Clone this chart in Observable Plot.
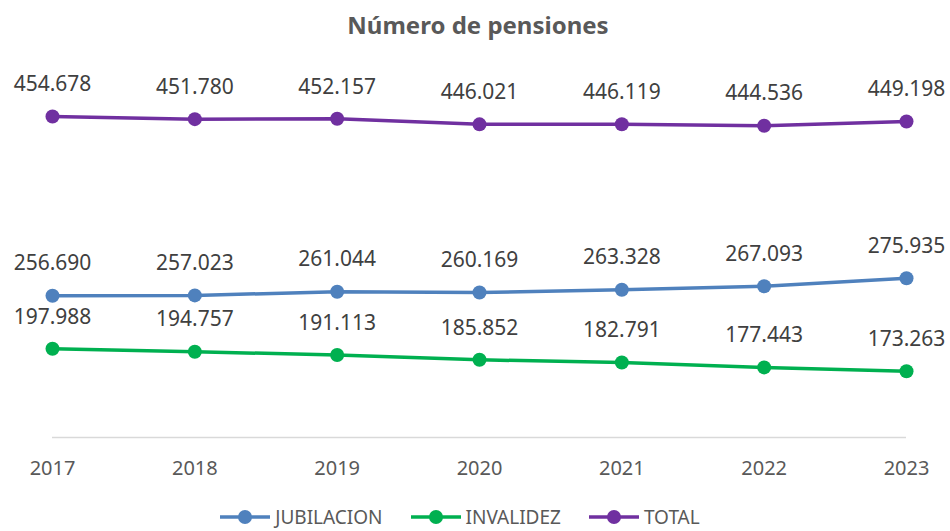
<!DOCTYPE html>
<html>
<head>
<meta charset="utf-8">
<script src="https://cdn.jsdelivr.net/npm/d3@7"></script>
<script src="https://cdn.jsdelivr.net/npm/@observablehq/plot@0.6"></script>
<style>
  body { margin: 0; background: #fff; font-family: "Noto Sans", sans-serif; }
  #wrap { width: 950px; height: 531px; overflow: hidden; position: relative; }
  #title { height: 50px; line-height: 50px; text-align: center; font-weight: bold; font-size: 24px; color: #595959; padding-left: 6px; }
  #legend { position: absolute; left: 0; right: 0; top: 504px; height: 26px; display: flex; justify-content: center; align-items: center; gap: 28px; font-size: 19px; line-height: 26px; color: #595959; padding-right: 30px; }
  .item { display: flex; align-items: center; gap: 5px; }
</style>
</head>
<body>
<div id="wrap">
  <div id="title">Número de pensiones</div>
  <div id="chart"></div>
  <div id="legend"></div>
</div>
<script>
const years = [2017, 2018, 2019, 2020, 2021, 2022, 2023];
const jubilacion = [256690, 257023, 261044, 260169, 263328, 267093, 275935];
const invalidez = [197988, 194757, 191113, 185852, 182791, 177443, 173263];
const total = [454678, 451780, 452157, 446021, 446119, 444536, 449198];
const seriesNames = ["JUBILACION", "INVALIDEZ", "TOTAL"];
const seriesColors = ["#4f81bd", "#00b050", "#7030a0"];

const seriesValues = [jubilacion, invalidez, total];
const data = [];
seriesNames.forEach((name, i) => {
  years.forEach((y, j) => data.push({ serie: name, year: y, value: seriesValues[i][j] }));
});

const fmt = d3.formatLocale({ decimal: ",", thousands: ".", grouping: [3], currency: ["", ""] }).format(",");

const plot = Plot.plot({
  width: 950,
  height: 450,
  marginTop: 25,
  marginBottom: 63,
  marginLeft: 52,
  marginRight: 44,
  style: { fontFamily: "Noto Sans, sans-serif", color: "#595959", background: "#fff" },
  x: { domain: [2017, 2023], axis: null },
  y: { domain: [100000, 500000], axis: null },
  color: { domain: seriesNames, range: seriesColors },
  marks: [
    Plot.ruleY([100000], { stroke: "#d9d9d9", strokeWidth: 1.5 }),
    Plot.text(years, { x: d => d, y: 100000, text: d => String(d), dy: 31, fontSize: 20, fill: "#595959" }),
    Plot.line(data, { x: "year", y: "value", z: "serie", stroke: "serie", strokeWidth: 3.5 }),
    Plot.dot(data, { x: "year", y: "value", fill: "serie", r: 7 }),
    Plot.text(data, { x: "year", y: "value", text: d => fmt(d.value), dy: -32, fontSize: 21, fill: "#404040" })
  ]
});
document.getElementById("chart").appendChild(plot);

const legend = document.getElementById("legend");
seriesNames.forEach((name, i) => {
  const item = document.createElement("div");
  item.className = "item";
  item.innerHTML = `<svg width="50" height="16"><line x1="0" y1="8" x2="50" y2="8" stroke="${seriesColors[i]}" stroke-width="3.5"/><circle cx="25" cy="8" r="7" fill="${seriesColors[i]}"/></svg><span>${name}</span>`;
  legend.appendChild(item);
});
</script>
</body>
</html>
